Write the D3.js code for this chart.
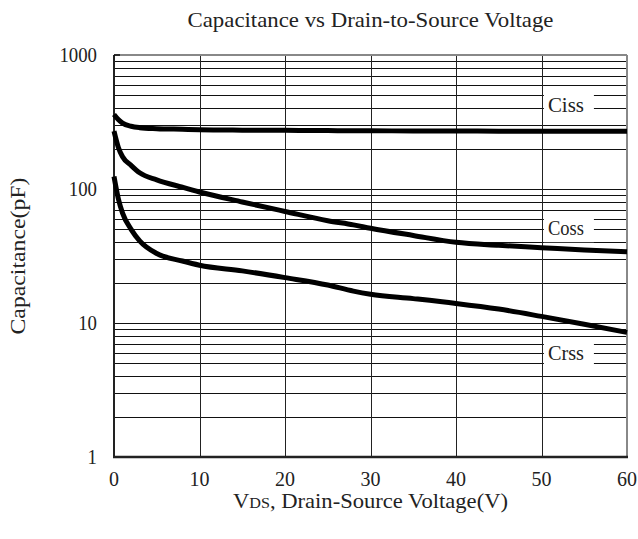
<!DOCTYPE html>
<html><head><meta charset="utf-8">
<script src="https://cdn.jsdelivr.net/npm/d3@7"></script>
<style>body{margin:0;background:#fff}svg{display:block}text{font-family:"Liberation Serif","Times New Roman",serif;fill:#222}</style>
</head><body><svg id="c" width="638" height="539"></svg>
<script>
const title = "Capacitance vs Drain-to-Source Voltage";
const xLabel = "VDS, Drain-Source Voltage(V)";
const yLabel = "Capacitance(pF)";
const xTicks = [0, 10, 20, 30, 40, 50, 60];
const yTicks = [1, 10, 100, 1000];
const seriesNames = ["Ciss", "Coss", "Crss"];
const vds = [0, 0.5, 1, 2, 3, 5, 8, 10, 15, 20, 25, 28, 30, 35, 40, 45, 50, 55, 60];
const ciss = [360, 330, 310, 294, 287, 282, 279, 277, 275, 274, 273, 272, 272, 271, 271, 270, 270, 270, 270];
const coss = [270, 205, 174, 150, 132, 117, 103, 95, 80, 68, 58, 54, 51, 45, 40, 38, 36.5, 35, 34];
const crss = [124, 85, 66, 50, 41, 33, 29, 27, 24.5, 21.8, 19.2, 17.3, 16.4, 15.2, 14, 12.7, 11.2, 9.8, 8.5];
const labelX = [50.75, 50.75, 50.75];
const labelY = [425, 51, 6.0];

const svg = d3.select("#c");
const m = {l:114, r:11, t:55, b:82};
const W = 638, H = 539;
const x = d3.scaleLinear().domain([0, 60]).range([m.l, W - m.r]);
const y = d3.scaleLog().domain([1, 1000]).range([H - m.b, m.t]);

// horizontal grid (log minor lines)
const hGrid = [];
for (let d = 1; d < 1000; d *= 10) for (let k = 2; k <= 9; k++) hGrid.push(d * k);
hGrid.push(10, 100);
svg.append("g").selectAll("line").data(hGrid).join("line")
  .attr("x1", x(0)).attr("x2", x(60))
  .attr("y1", d => Math.round(y(d)) + 0.5).attr("y2", d => Math.round(y(d)) + 0.5)
  .attr("stroke", "#111").attr("stroke-width", 1);
// vertical grid
svg.append("g").selectAll("line").data(xTicks.slice(1, -1)).join("line")
  .attr("y1", y(1000)).attr("y2", y(1))
  .attr("x1", d => Math.round(x(d)) + 0.5).attr("x2", d => Math.round(x(d)) + 0.5)
  .attr("stroke", "#222").attr("stroke-width", 1);

// label boxes
const lab = svg.append("g");
seriesNames.forEach((n, i) => {
  const cx = x(labelX[i]), cy = y(labelY[i]);
  lab.append("rect").attr("x", cx - 4).attr("y", cy - 14).attr("width", 50).attr("height", 28).attr("fill", "#fff");
  lab.append("text").attr("x", cx).attr("y", cy + 7).attr("font-size", 21)
    .attr("textLength", 36).attr("lengthAdjust", "spacingAndGlyphs").text(n);
});

// frame
svg.append("line").attr("x1", x(0)).attr("x2", x(60)).attr("y1", y(1000)).attr("y2", y(1000)).attr("stroke", "#888").attr("stroke-width", 2);
svg.append("line").attr("x1", x(60)).attr("x2", x(60)).attr("y1", y(1000)).attr("y2", y(1)).attr("stroke", "#888").attr("stroke-width", 2);
svg.append("line").attr("x1", x(0)).attr("x2", x(0)).attr("y1", y(1000)).attr("y2", y(1) + 1).attr("stroke", "#222").attr("stroke-width", 2);
svg.append("line").attr("x1", x(0) - 1).attr("x2", x(60) + 1).attr("y1", y(1)).attr("y2", y(1)).attr("stroke", "#222").attr("stroke-width", 2.5);
svg.append("line").attr("x1", x(0)).attr("x2", x(0) + 6).attr("y1", y(1000)).attr("y2", y(1000)).attr("stroke", "#111").attr("stroke-width", 1.5);

// curves
const line = d3.line().x((d, i) => x(vds[i])).y(d => y(d)).curve(d3.curveMonotoneX);
[ciss, coss, crss].forEach(s => {
  svg.append("path").attr("d", line(s)).attr("fill", "none").attr("stroke", "#000").attr("stroke-width", 5).attr("stroke-linejoin", "round");
});

// axis tick labels
svg.append("g").selectAll("text").data(xTicks).join("text")
  .attr("x", d => x(d)).attr("y", y(1) + 29).attr("text-anchor", "middle").attr("font-size", 20).text(d => d);
svg.append("g").selectAll("text").data(yTicks).join("text")
  .attr("x", m.l - 17).attr("y", d => y(d) + 7).attr("text-anchor", "end").attr("font-size", 20)
  .attr("textLength", d => String(d).length * 9.4).attr("lengthAdjust", "spacingAndGlyphs").text(d => d);

// titles
svg.append("text").attr("x", (x(0) + x(60)) / 2).attr("y", 27).attr("text-anchor", "middle").attr("font-size", 22)
  .attr("textLength", 366).attr("lengthAdjust", "spacingAndGlyphs").text(title);
const xl = svg.append("text").attr("x", (x(0) + x(60)) / 2).attr("y", 508).attr("text-anchor", "middle").attr("font-size", 21)
  .attr("textLength", 275).attr("lengthAdjust", "spacingAndGlyphs");
xl.append("tspan").text("V");
xl.append("tspan").attr("font-size", 15).text("DS");
xl.append("tspan").text(", Drain-Source Voltage(V)");
svg.append("text").attr("transform", "translate(25," + ((y(1) + y(1000)) / 2) + ") rotate(-90)")
  .attr("text-anchor", "middle").attr("font-size", 22)
  .attr("textLength", 157).attr("lengthAdjust", "spacingAndGlyphs").text(yLabel);
</script></body></html>
